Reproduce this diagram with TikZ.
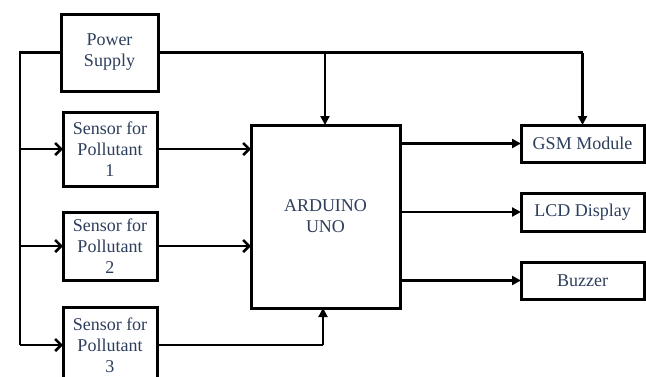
\documentclass[tikz,border=0pt]{standalone}
\usepackage{fontspec}
\setmainfont{Liberation Serif}
\usetikzlibrary{arrows.meta}
\definecolor{txt}{RGB}{45,62,92}
\begin{document}
\begin{tikzpicture}[x=1pt,y=-1pt,
  blk/.style={draw=black,line width=3pt,fill=white,inner sep=0pt,outer sep=0pt,
    align=center,text=txt,font=\fontsize{18}{21}\selectfont},
  conn/.style={line width=2.6pt,line join=miter},
  barb/.style={conn,-{Straight Barb[length=6pt,width=12pt,line width=2.6pt]}},
  tri/.style={conn,-{Triangle[length=9pt,width=9pt]}}]
\useasboundingbox (0,0) rectangle (646,376);
\clip (0,0) rectangle (646,376);
\node[blk,minimum width=97pt,minimum height=77pt] (pw) at (109.5,52.5) {Power\\Supply};
\node[blk,minimum width=94pt,minimum height=74pt] (s1) at (110,149) {Sensor for\\Pollutant\\1};
\node[blk,minimum width=94pt,minimum height=68pt] (s2) at (110,246) {Sensor for\\Pollutant\\2};
\node[blk,minimum width=94pt,minimum height=76pt] (s3) at (110,345) {Sensor for\\Pollutant\\3};
\node[blk,minimum width=149pt,minimum height=183pt] (ar) at (325.5,216.5) {ARDUINO\\UNO};
\node[blk,minimum width=123pt,minimum height=37pt] (gsm) at (582.5,143.5) {GSM Module};
\node[blk,minimum width=123pt,minimum height=38pt] (lcd) at (582.5,212) {LCD Display};
\node[blk,minimum width=123pt,minimum height=37pt] (bz) at (582.5,280.5) {Buzzer};
\coordinate (lt) at (20,52.5);
\coordinate (lb) at (20,345);
\coordinate (pa) at (325,52.5);
\coordinate (pg) at (582.5,52.5);
\coordinate (s3c) at (323,345);
% power bus
\draw[conn] (pw.west) -- (lt) -- (lb);
\draw[barb] (lt |- s1.west) -- (s1.west);
\draw[barb] (lt |- s2.west) -- (s2.west);
\draw[barb] (lb) -- (s3.west);
\draw[conn] (pw.east) -- (pg);
\draw[tri] (pa) -- (pa |- ar.north);
\draw[tri] (pg) -- (gsm.north);
% sensors to arduino
\draw[barb] (s1.east) -- (s1.east -| ar.west);
\draw[barb] (s2.east) -- (s2.east -| ar.west);
\draw[conn] (s3.east) -- (s3c);
\draw[tri] (s3c) -- (s3c |- ar.south);
% outputs
\draw[tri] (ar.east |- gsm.west) -- (gsm.west);
\draw[tri] (ar.east |- lcd.west) -- (lcd.west);
\draw[tri] (ar.east |- bz.west) -- (bz.west);
\end{tikzpicture}
\end{document}
